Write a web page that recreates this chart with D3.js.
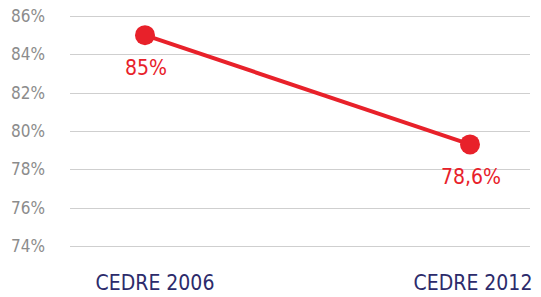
<!DOCTYPE html>
<html>
<head>
<meta charset="utf-8">
<script src="https://cdn.jsdelivr.net/npm/d3@7"></script>
<style>
html,body{margin:0;padding:0;background:#fff;}
svg{display:block;}
</style>
</head>
<body>
<svg id="chart" width="541" height="297"></svg>
<script>
const categories = ["CEDRE 2006", "CEDRE 2012"];
const values = [85, 79.3];
const valueLabels = ["85%", "78,6%"];
const yTicks = [74, 76, 78, 80, 82, 84, 86];

const svg = d3.select("#chart");
const font = "'DejaVu Sans Condensed', 'DejaVu Sans', sans-serif";
const red = "#e8212a";

const y = d3.scaleLinear().domain([74, 86]).range([246, 16]);
const x = d3.scalePoint().domain(categories).range([145, 470]);

// gridlines
svg.append("g").selectAll("line").data(yTicks).join("line")
  .attr("x1", 70).attr("x2", 530)
  .attr("y1", d => Math.round(y(d)) + 0.5).attr("y2", d => Math.round(y(d)) + 0.5)
  .attr("stroke", "#cfcfcf").attr("stroke-width", 1);

// y labels
svg.append("g").selectAll("text").data(yTicks).join("text")
  .attr("x", 45).attr("y", d => y(d))
  .attr("dy", "0.35em")
  .attr("text-anchor", "end")
  .attr("font-family", font).attr("font-size", 17)
  .attr("fill", "#8c8c8c")
  .text(d => d + "%");

// x labels
svg.append("g").selectAll("text").data(categories).join("text")
  .attr("x", (d, i) => x(d) + (i === 0 ? 10 : 3)).attr("y", 290)
  .attr("text-anchor", "middle")
  .attr("font-family", font).attr("font-size", 21)
  .attr("fill", "#2c2b6b")
  .text(d => d);

const pts = categories.map((c, i) => ({c, v: values[i], l: valueLabels[i]}));

svg.append("path").datum(pts)
  .attr("d", d3.line().x(d => x(d.c)).y(d => y(d.v)))
  .attr("fill", "none").attr("stroke", red).attr("stroke-width", 4);

svg.append("g").selectAll("circle").data(pts).join("circle")
  .attr("cx", d => x(d.c)).attr("cy", d => y(d.v)).attr("r", 10)
  .attr("fill", red);

svg.append("g").selectAll("text").data(pts).join("text")
  .attr("x", d => x(d.c) + 1).attr("y", d => y(d.v) + 40)
  .attr("text-anchor", "middle")
  .attr("font-family", font).attr("font-size", 21)
  .attr("fill", red)
  .text(d => d.l);
</script>
</body>
</html>
